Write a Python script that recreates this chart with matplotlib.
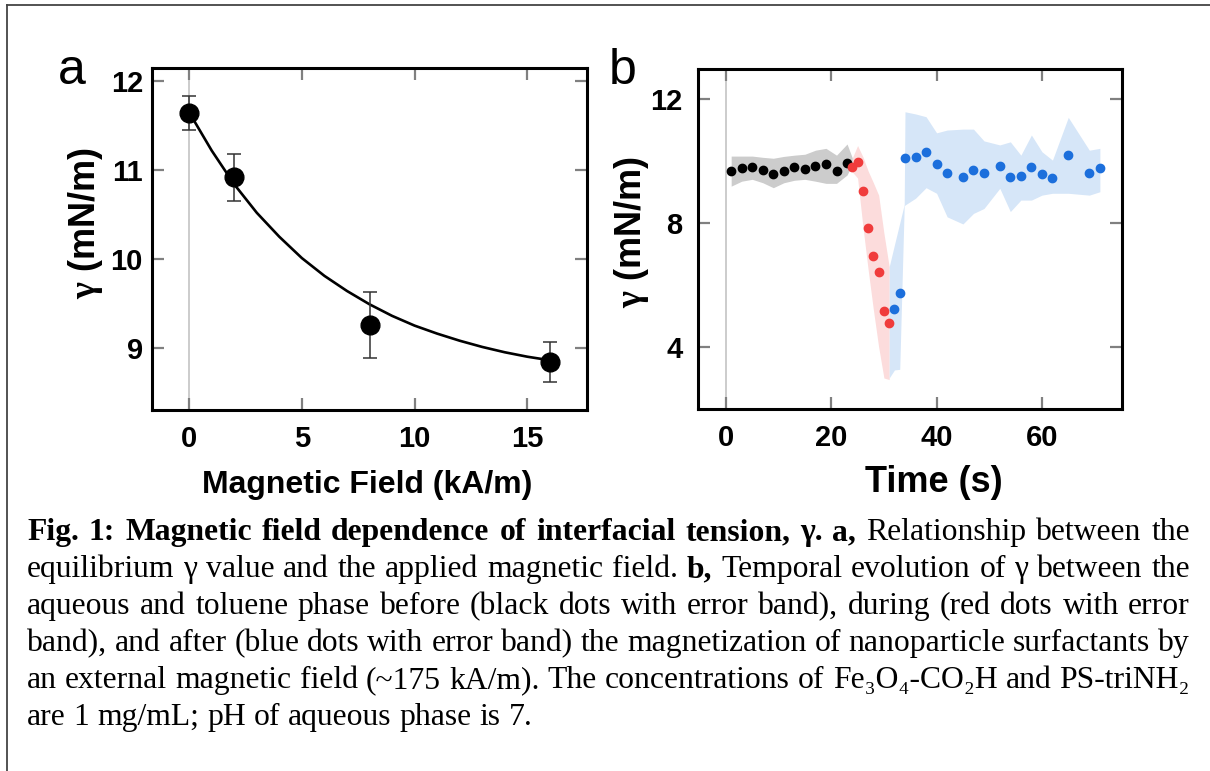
import numpy as np
import matplotlib
matplotlib.use('Agg')
import matplotlib.pyplot as plt
from matplotlib.lines import Line2D

W, H = 1210, 771

# panel a: equilibrium gamma vs applied field
field = [0, 2, 8, 16]
gamma_eq = [11.64, 10.92, 9.26, 8.84]
gamma_eq_lo = [11.45, 10.65, 8.89, 8.62]
gamma_eq_hi = [11.83, 11.18, 9.63, 9.06]
# fitted curve
fit_field = [0, 1, 2, 3, 4, 5, 6, 7, 8, 9, 10, 11, 12, 13, 14, 15, 16]
fit_gamma = [11.65, 11.22, 10.84, 10.52, 10.25, 10.01, 9.81, 9.64, 9.49,
             9.36, 9.25, 9.16, 9.08, 9.01, 8.95, 8.90, 8.86]

# panel b: gamma over time, before / during / after magnetization
t_before = [1, 3, 5, 7, 9, 11, 13, 15, 17, 19, 21, 23]
g_before = [9.68, 9.76, 9.82, 9.71, 9.59, 9.69, 9.82, 9.73, 9.84, 9.89, 9.68, 9.95]
band_before_t = [1, 3, 5, 7, 9, 11, 13, 15, 17, 19, 21, 23, 24]
band_before_lo = [9.19, 9.35, 9.41, 9.30, 9.14, 9.30, 9.38, 9.41, 9.35, 9.28, 9.28, 9.55, 9.90]
band_before_hi = [10.16, 10.16, 10.16, 10.12, 10.09, 10.15, 10.19, 10.22, 10.35, 10.41, 10.19, 10.55, 10.10]

t_during = [24, 25, 26, 27, 28, 29, 30, 31]
g_during = [9.82, 9.98, 9.04, 7.85, 6.94, 6.43, 5.17, 4.76]
band_during_lo = [9.65, 9.45, 7.90, 6.50, 5.20, 4.00, 3.00, 2.95]
band_during_hi = [10.10, 10.50, 10.14, 9.68, 9.30, 8.90, 7.67, 6.59]

t_after = [32, 33, 34, 36, 38, 40, 42, 45, 47, 49, 52, 54, 56, 58, 60, 62, 65, 69, 71]
g_after = [5.23, 5.73, 10.09, 10.14, 10.30, 9.92, 9.60, 9.47, 9.71, 9.60, 9.84,
           9.49, 9.53, 9.80, 9.58, 9.44, 10.19, 9.62, 9.76]
band_after_t = [31, 32, 33, 33.85, 34, 36, 38, 40, 42, 45, 47, 49, 52, 54, 56, 58, 60, 62, 65, 69, 71]
band_after_lo = [3.00, 3.26, 3.28, 8.55, 8.58, 8.80, 9.14, 8.96, 8.20, 7.97, 8.31,
                 8.47, 9.12, 8.37, 8.74, 8.74, 8.90, 8.96, 8.96, 8.90, 9.01]
band_after_hi = [6.59, 7.30, 8.00, 8.60, 11.59, 11.52, 11.43, 10.91, 11.00, 11.03, 11.03,
                 10.65, 10.52, 10.62, 10.19, 10.84, 10.30, 10.03, 11.41, 10.35, 10.41]

caption_lines = [
    [("Fig. 1: Magnetic field dependence of interfacial tension, \u03b3. a,", True),
     ("Relationship between the", False)],
    [("equilibrium \u03b3 value and the applied magnetic field.", False), ("b,", True),
     ("Temporal evolution of \u03b3 between the", False)],
    [("aqueous and toluene phase before (black dots with error band), during (red dots with error", False)],
    [("band), and after (blue dots with error band) the magnetization of nanoparticle surfactants by", False)],
    [("an external magnetic field (~175 kA/m). The concentrations of Fe\u2083O\u2084-CO\u2082H and PS-triNH\u2082", False)],
    [("are 1 mg/mL; pH of aqueous phase is 7.", False)],
]

plt.rcParams['font.family'] = ['Liberation Sans', 'DejaVu Sans']
plt.rcParams['font.weight'] = 'bold'
plt.rcParams['mathtext.fontset'] = 'custom'
plt.rcParams['mathtext.rm'] = 'Liberation Serif'

fig = plt.figure(figsize=(W / 100, H / 100), dpi=100)
fig.patch.set_facecolor('white')

# frame round the figure (left and top only visible)
fig.add_artist(Line2D([7 / W, 7 / W], [0, 1 - 5 / H], color='#444444', lw=1.3))
fig.add_artist(Line2D([7 / W, 1], [1 - 5 / H, 1 - 5 / H], color='#444444', lw=1.3))


def style_axes(ax, ypad):
    for s in ax.spines.values():
        s.set_linewidth(2.2)
    ax.tick_params(direction='in', length=8.6, width=1.6, color='#808080',
                   top=True, right=True, labelsize=21)
    ax.tick_params(axis='x', pad=10.5)
    ax.tick_params(axis='y', pad=ypad)
    ax.axvline(0, color='#c8c8c8', lw=1.3, zorder=0)


ylab = r'$\mathrm{\gamma}$ (mN/m)'

# ---- panel a ----
ax1 = fig.add_axes([152 / W, 1 - 410 / H, 435 / W, 342 / H])
yerr = [np.array(gamma_eq) - np.array(gamma_eq_lo), np.array(gamma_eq_hi) - np.array(gamma_eq)]
ax1.plot(fit_field, fit_gamma, color='black', lw=1.9, zorder=2)
ax1.errorbar(field, gamma_eq, yerr=yerr, fmt='o', ms=13.5, color='black', ecolor='#333333',
             elinewidth=1.1, capsize=4.7, capthick=1.1, zorder=3)
ax1.set_xlim(-1.65, 17.65)
ax1.set_ylim(8.30, 12.15)
ax1.set_xticks([0, 5, 10, 15])
ax1.set_yticks([9, 10, 11, 12])
style_axes(ax1, 6.5)
ax1.set_xlabel('Magnetic Field (kA/m)', fontsize=23, fontweight='bold')
ax1.xaxis.set_label_coords(0.494, -0.243)
ax1.xaxis.label.set_va('baseline')
ax1.set_ylabel(ylab, fontsize=26, fontweight='bold')
ax1.yaxis.set_label_coords(-0.152, 0.545)
ax1.yaxis.label.set_va('center')
fig.text(58 / W, 1 - 84 / H, 'a', fontsize=36, fontweight='normal', va='baseline')

# ---- panel b ----
ax2 = fig.add_axes([698 / W, 1 - 409 / H, 424 / W, 340 / H])
ax2.fill_between(band_before_t, band_before_lo, band_before_hi, color='#cccccc', lw=0, zorder=1)
ax2.fill_between(t_during, band_during_lo, band_during_hi, color='#fcdcdc', lw=0, zorder=1)
ax2.fill_between(band_after_t, band_after_lo, band_after_hi, color='#d6e6f8', lw=0, zorder=1)
ax2.plot(t_before, g_before, 'o', ms=6, color='black', zorder=3)
ax2.plot(t_during, g_during, 'o', ms=6, color='#f03c3c', zorder=3)
ax2.plot(t_after, g_after, 'o', ms=6, color='#1c6fdc', zorder=3)
ax2.set_xlim(-5.3, 75.2)
ax2.set_ylim(2.0, 12.97)
ax2.set_xticks([0, 20, 40, 60])
ax2.set_yticks([4, 8, 12])
style_axes(ax2, 11)
ax2.set_xlabel('Time (s)', fontsize=26, fontweight='bold')
ax2.xaxis.set_label_coords(0.557, -0.244)
ax2.xaxis.label.set_va('baseline')
ax2.set_ylabel(ylab, fontsize=26, fontweight='bold')
ax2.yaxis.set_label_coords(-0.158, 0.52)
ax2.yaxis.label.set_va('center')
fig.text(609 / W, 1 - 84 / H, 'b', fontsize=36, fontweight='normal', va='baseline')

# ---- caption, justified line by line ----
cap_family = ['Liberation Serif', 'DejaVu Serif']
left_px, right_px = 27, 1190
renderer = fig.canvas.get_renderer()


def measure(words, size):
    objs = [fig.text(0, 0, w, fontsize=size, family=cap_family, va='baseline',
                     fontweight='bold' if b else 'normal') for w, b in words]
    widths = [o.get_window_extent(renderer).width for o in objs]
    return objs, widths


line_words = []
for line in caption_lines:
    words = []
    for seg, bold in line:
        for w in seg.split():
            words.append((w, bold))
    line_words.append(words)

# pick the largest size at which every full line still fits with normal spaces
base = 20.0
scale = 10.0
for words in line_words[:-1]:
    objs, widths = measure(words, base)
    space = 0.25 * base * 100 / 72
    natural = sum(widths) + space * (len(words) - 1)
    scale = min(scale, (right_px - left_px) / natural)
    for o in objs:
        o.remove()
cap_size = base * scale

for i, words in enumerate(line_words):
    y = 1 - (540 + 37 * i) / H
    objs, widths = measure(words, cap_size)
    if i < len(line_words) - 1:
        gap = (right_px - left_px - sum(widths)) / (len(objs) - 1)
    else:
        gap = 0.25 * cap_size * 100 / 72
    x = left_px
    for o, w in zip(objs, widths):
        o.set_position((x / W, y))
        x += w + gap

fig.savefig('out.png', dpi=100)
